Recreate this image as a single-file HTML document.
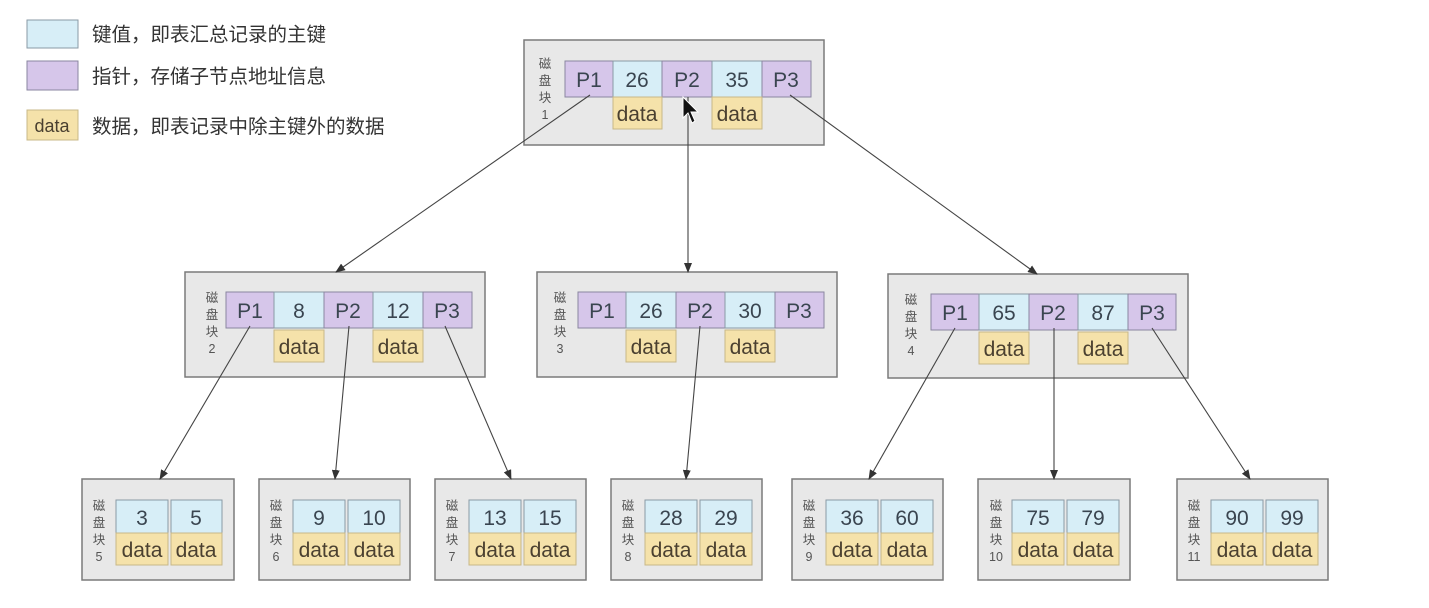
<!DOCTYPE html>
<html><head><meta charset="utf-8"><style>
html,body{margin:0;padding:0;background:#fff;}
svg{display:block;}
text{font-family:"Liberation Sans","Noto Sans CJK SC",sans-serif;}
.blk{fill:#e8e8e8;stroke:#7a7a7a;stroke-width:1.5;}
.k{fill:#d7eef7;stroke:#8a9aa5;stroke-width:1;}
.p{fill:#d6c6ea;stroke:#8a86a0;stroke-width:1;}
.d{fill:#f5e2aa;stroke:#c8b888;stroke-width:1;}
.t{font-size:21px;fill:#3a4550;text-anchor:middle;}
.d + .t{fill:#4a4030;}
.lb{font-size:12.5px;fill:#555;text-anchor:middle;}
.lg{font-size:19.5px;fill:#333;}
.ln{stroke:#444;stroke-width:1.1;fill:none;marker-end:url(#ah);}
</style></head><body>
<svg width="1429" height="608" viewBox="0 0 1429 608" xmlns="http://www.w3.org/2000/svg">
<defs><marker id="ah" markerWidth="10" markerHeight="8" refX="9" refY="4" orient="auto" markerUnits="userSpaceOnUse"><path d="M0,0 L10,4 L0,8 Z" fill="#333"/></marker></defs>

<!-- legend -->
<rect x="27" y="20" width="51" height="28" class="k"/>
<text x="92" y="41" class="lg">键值，即表汇总记录的主键</text>
<rect x="27" y="61" width="51" height="29" class="p"/>
<text x="92" y="83" class="lg">指针，存储子节点地址信息</text>
<rect x="27" y="110" width="51" height="30" class="d"/>
<text x="52" y="132" class="t" style="font-size:18px">data</text>
<text x="92" y="133" class="lg">数据，即表记录中除主键外的数据</text>

<!-- root -->
<rect x="524" y="40" width="300" height="105" class="blk"/>
<g class="lb"><text x="545" y="68">磁</text><text x="545" y="85">盘</text><text x="545" y="102">块</text><text x="545" y="119">1</text></g>
<rect x="565" y="61" width="48" height="36" class="p"/><text x="589" y="87" class="t">P1</text>
<rect x="613" y="61" width="49" height="36" class="k"/><text x="637" y="87" class="t">26</text>
<rect x="662" y="61" width="50" height="36" class="p"/><text x="687" y="87" class="t">P2</text>
<rect x="712" y="61" width="50" height="36" class="k"/><text x="737" y="87" class="t">35</text>
<rect x="762" y="61" width="49" height="36" class="p"/><text x="786" y="87" class="t">P3</text>
<rect x="613" y="97" width="49" height="32" class="d"/><text x="637" y="121" class="t">data</text>
<rect x="712" y="97" width="50" height="32" class="d"/><text x="737" y="121" class="t">data</text>

<!-- level 2 -->
<g>
<rect x="185" y="272" width="300" height="105" class="blk"/>
<g class="lb"><text x="212" y="302">磁</text><text x="212" y="319">盘</text><text x="212" y="336">块</text><text x="212" y="353">2</text></g>
<rect x="226" y="292" width="48" height="36" class="p"/><text x="250" y="318" class="t">P1</text>
<rect x="274" y="292" width="50" height="36" class="k"/><text x="299" y="318" class="t">8</text>
<rect x="324" y="292" width="49" height="36" class="p"/><text x="348" y="318" class="t">P2</text>
<rect x="373" y="292" width="50" height="36" class="k"/><text x="398" y="318" class="t">12</text>
<rect x="423" y="292" width="49" height="36" class="p"/><text x="447" y="318" class="t">P3</text>
<rect x="274" y="330" width="50" height="32" class="d"/><text x="299" y="354" class="t">data</text>
<rect x="373" y="330" width="50" height="32" class="d"/><text x="398" y="354" class="t">data</text>
</g>
<g>
<rect x="537" y="272" width="300" height="105" class="blk"/>
<g class="lb"><text x="560" y="302">磁</text><text x="560" y="319">盘</text><text x="560" y="336">块</text><text x="560" y="353">3</text></g>
<rect x="578" y="292" width="48" height="36" class="p"/><text x="602" y="318" class="t">P1</text>
<rect x="626" y="292" width="50" height="36" class="k"/><text x="651" y="318" class="t">26</text>
<rect x="676" y="292" width="49" height="36" class="p"/><text x="700" y="318" class="t">P2</text>
<rect x="725" y="292" width="50" height="36" class="k"/><text x="750" y="318" class="t">30</text>
<rect x="775" y="292" width="49" height="36" class="p"/><text x="799" y="318" class="t">P3</text>
<rect x="626" y="330" width="50" height="32" class="d"/><text x="651" y="354" class="t">data</text>
<rect x="725" y="330" width="50" height="32" class="d"/><text x="750" y="354" class="t">data</text>
</g>
<g>
<rect x="888" y="274" width="300" height="104" class="blk"/>
<g class="lb"><text x="911" y="304">磁</text><text x="911" y="321">盘</text><text x="911" y="338">块</text><text x="911" y="355">4</text></g>
<rect x="931" y="294" width="48" height="36" class="p"/><text x="955" y="320" class="t">P1</text>
<rect x="979" y="294" width="50" height="36" class="k"/><text x="1004" y="320" class="t">65</text>
<rect x="1029" y="294" width="49" height="36" class="p"/><text x="1053" y="320" class="t">P2</text>
<rect x="1078" y="294" width="50" height="36" class="k"/><text x="1103" y="320" class="t">87</text>
<rect x="1128" y="294" width="48" height="36" class="p"/><text x="1152" y="320" class="t">P3</text>
<rect x="979" y="332" width="50" height="32" class="d"/><text x="1004" y="356" class="t">data</text>
<rect x="1078" y="332" width="50" height="32" class="d"/><text x="1103" y="356" class="t">data</text>
</g>

<!-- leaves -->
<g id="leaves">
<rect x="82" y="479" width="152" height="101" class="blk"/>
<g class="lb"><text x="99" y="510">磁</text><text x="99" y="527">盘</text><text x="99" y="544">块</text><text x="99" y="561">5</text></g>
<rect x="116" y="500" width="52" height="33" class="k"/><text x="142" y="525" class="t">3</text>
<rect x="171" y="500" width="51" height="33" class="k"/><text x="196" y="525" class="t">5</text>
<rect x="116" y="533" width="52" height="32" class="d"/><text x="142" y="557" class="t">data</text>
<rect x="171" y="533" width="51" height="32" class="d"/><text x="196" y="557" class="t">data</text>

<rect x="259" y="479" width="151" height="101" class="blk"/>
<g class="lb"><text x="276" y="510">磁</text><text x="276" y="527">盘</text><text x="276" y="544">块</text><text x="276" y="561">6</text></g>
<rect x="293" y="500" width="52" height="33" class="k"/><text x="319" y="525" class="t">9</text>
<rect x="348" y="500" width="52" height="33" class="k"/><text x="374" y="525" class="t">10</text>
<rect x="293" y="533" width="52" height="32" class="d"/><text x="319" y="557" class="t">data</text>
<rect x="348" y="533" width="52" height="32" class="d"/><text x="374" y="557" class="t">data</text>

<rect x="435" y="479" width="151" height="101" class="blk"/>
<g class="lb"><text x="452" y="510">磁</text><text x="452" y="527">盘</text><text x="452" y="544">块</text><text x="452" y="561">7</text></g>
<rect x="469" y="500" width="52" height="33" class="k"/><text x="495" y="525" class="t">13</text>
<rect x="524" y="500" width="52" height="33" class="k"/><text x="550" y="525" class="t">15</text>
<rect x="469" y="533" width="52" height="32" class="d"/><text x="495" y="557" class="t">data</text>
<rect x="524" y="533" width="52" height="32" class="d"/><text x="550" y="557" class="t">data</text>

<rect x="611" y="479" width="151" height="101" class="blk"/>
<g class="lb"><text x="628" y="510">磁</text><text x="628" y="527">盘</text><text x="628" y="544">块</text><text x="628" y="561">8</text></g>
<rect x="645" y="500" width="52" height="33" class="k"/><text x="671" y="525" class="t">28</text>
<rect x="700" y="500" width="52" height="33" class="k"/><text x="726" y="525" class="t">29</text>
<rect x="645" y="533" width="52" height="32" class="d"/><text x="671" y="557" class="t">data</text>
<rect x="700" y="533" width="52" height="32" class="d"/><text x="726" y="557" class="t">data</text>

<rect x="792" y="479" width="151" height="101" class="blk"/>
<g class="lb"><text x="809" y="510">磁</text><text x="809" y="527">盘</text><text x="809" y="544">块</text><text x="809" y="561">9</text></g>
<rect x="826" y="500" width="52" height="33" class="k"/><text x="852" y="525" class="t">36</text>
<rect x="881" y="500" width="52" height="33" class="k"/><text x="907" y="525" class="t">60</text>
<rect x="826" y="533" width="52" height="32" class="d"/><text x="852" y="557" class="t">data</text>
<rect x="881" y="533" width="52" height="32" class="d"/><text x="907" y="557" class="t">data</text>

<rect x="978" y="479" width="152" height="101" class="blk"/>
<g class="lb"><text x="996" y="510">磁</text><text x="996" y="527">盘</text><text x="996" y="544">块</text><text x="996" y="561">10</text></g>
<rect x="1012" y="500" width="52" height="33" class="k"/><text x="1038" y="525" class="t">75</text>
<rect x="1067" y="500" width="52" height="33" class="k"/><text x="1093" y="525" class="t">79</text>
<rect x="1012" y="533" width="52" height="32" class="d"/><text x="1038" y="557" class="t">data</text>
<rect x="1067" y="533" width="52" height="32" class="d"/><text x="1093" y="557" class="t">data</text>

<rect x="1177" y="479" width="151" height="101" class="blk"/>
<g class="lb"><text x="1194" y="510">磁</text><text x="1194" y="527">盘</text><text x="1194" y="544">块</text><text x="1194" y="561">11</text></g>
<rect x="1211" y="500" width="52" height="33" class="k"/><text x="1237" y="525" class="t">90</text>
<rect x="1266" y="500" width="52" height="33" class="k"/><text x="1292" y="525" class="t">99</text>
<rect x="1211" y="533" width="52" height="32" class="d"/><text x="1237" y="557" class="t">data</text>
<rect x="1266" y="533" width="52" height="32" class="d"/><text x="1292" y="557" class="t">data</text>
</g>

<!-- arrows -->
<line x1="590" y1="95" x2="336" y2="272" class="ln"/>
<line x1="688" y1="97" x2="688" y2="272" class="ln"/>
<line x1="790" y1="95" x2="1037" y2="274" class="ln"/>
<line x1="250" y1="326" x2="160" y2="479" class="ln"/>
<line x1="349" y1="326" x2="335" y2="479" class="ln"/>
<line x1="445" y1="326" x2="511" y2="479" class="ln"/>
<line x1="700" y1="326" x2="686" y2="479" class="ln"/>
<line x1="955" y1="328" x2="869" y2="479" class="ln"/>
<line x1="1054" y1="328" x2="1054" y2="479" class="ln"/>
<line x1="1152" y1="328" x2="1250" y2="479" class="ln"/>

<!-- cursor -->
<path d="M683,97 L683,118 L688,113 L692,123 L695,121 L691,112 L698,112 Z" fill="#111" stroke="#fff" stroke-width="1"/>
</svg>
</body></html>
